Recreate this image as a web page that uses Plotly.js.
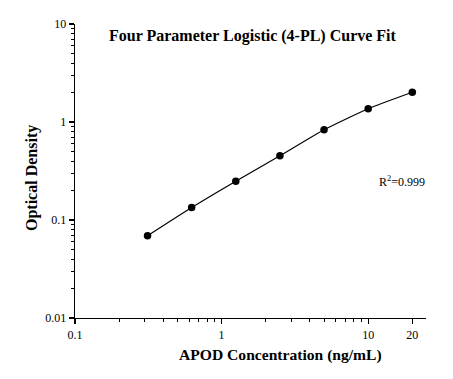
<!DOCTYPE html>
<html>
<head>
<meta charset="utf-8">
<script src="https://cdn.plot.ly/plotly-3.0.1.min.js"></script>
<style>html,body{margin:0;padding:0;background:#fff}#chart{width:453px;height:379px}</style>
</head>
<body>
<div id="chart"></div>
<script>
const concentration = [0.3125, 0.625, 1.25, 2.5, 5, 10, 20];
const opticalDensity = [0.069, 0.134, 0.249, 0.452, 0.834, 1.367, 2.01];
const xTickVals = [0.1, 1, 10, 20];
const xTickText = ['0.1', '1', '10', '20'];
const yTickVals = [0.01, 0.1, 1, 10];
const yTickText = ['0.01', '0.1', '1', '10'];
const titleText = 'Four Parameter Logistic (4-PL) Curve Fit';
const xTitle = 'APOD Concentration (ng/mL)';
const yTitle = 'Optical Density';
const r2Text = 'R<sup>2</sup>=0.999';

function minorVals(lo, hi) {
  const out = [];
  for (let d = lo; d < hi; d *= 10) {
    for (let k = 2; k <= 9; k++) out.push(+(d * k).toPrecision(6));
  }
  return out;
}

const font = {family: 'Liberation Serif, Times New Roman, serif', color: '#000'};
const L = 75, R = 426, T = 24, B = 318;
const px = v => (v - L) / (R - L);
const py = v => (B - v) / (B - T);

const trace = {
  x: concentration, y: opticalDensity,
  mode: 'lines+markers', type: 'scatter',
  line: {color: '#000', width: 1.2, shape: 'spline', smoothing: 0.5},
  marker: {color: '#000', size: 7.5},
  hoverinfo: 'none'
};

const layout = {
  width: 453, height: 379,
  margin: {l: L, r: 453 - R, t: T, b: 379 - B},
  paper_bgcolor: '#fff', plot_bgcolor: '#fff',
  showlegend: false,
  font: Object.assign({size: 12}, font),
  xaxis: {
    type: 'log', range: [-1, Math.log10(24.8)],
    tickmode: 'array', tickvals: xTickVals, ticktext: xTickText,
    ticks: 'outside', ticklen: 5, tickwidth: 1.2, tickcolor: '#000',
    minor: {tickmode: 'array', tickvals: minorVals(0.1, 10).concat([20]), ticks: 'outside', ticklen: 3, tickwidth: 1, tickcolor: '#000'},
    showline: true, linecolor: '#000', linewidth: 1.3,
    showgrid: false, zeroline: false, mirror: false,
    tickfont: Object.assign({size: 12}, font)
  },
  yaxis: {
    type: 'log', range: [-2, 1],
    tickmode: 'array', tickvals: yTickVals, ticktext: yTickText,
    ticks: 'outside', ticklen: 5, tickwidth: 1.2, tickcolor: '#000',
    minor: {tickmode: 'array', tickvals: minorVals(0.01, 10), ticks: 'outside', ticklen: 3, tickwidth: 1, tickcolor: '#000'},
    showline: true, linecolor: '#000', linewidth: 1.3,
    showgrid: false, zeroline: false, mirror: false,
    tickfont: Object.assign({size: 12}, font)
  },
  annotations: [
    {xref: 'paper', yref: 'paper', x: px(253), y: py(36), text: '<b>' + titleText + '</b>',
     showarrow: false, xanchor: 'center', yanchor: 'middle', font: Object.assign({size: 16}, font)},
    {xref: 'paper', yref: 'paper', x: px(280), y: py(355), text: '<b>' + xTitle + '</b>',
     showarrow: false, xanchor: 'center', yanchor: 'middle', font: Object.assign({size: 15.6}, font)},
    {xref: 'paper', yref: 'paper', x: px(32), y: py(178), text: '<b>' + yTitle + '</b>', textangle: -90,
     showarrow: false, xanchor: 'center', yanchor: 'middle', font: Object.assign({size: 16}, font)},
    {xref: 'paper', yref: 'paper', x: px(402), y: py(181), text: r2Text,
     showarrow: false, xanchor: 'center', yanchor: 'middle', font: Object.assign({size: 12}, font)}
  ]
};

Plotly.newPlot('chart', [trace], layout, {displayModeBar: false, staticPlot: true});
</script>
</body>
</html>
